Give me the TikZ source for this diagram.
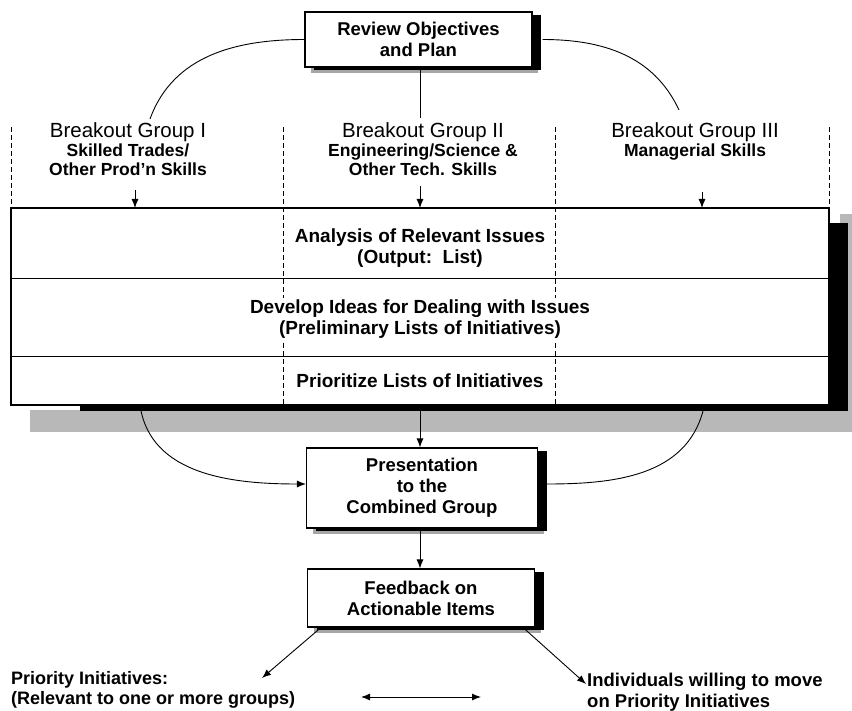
\documentclass[tikz,border=0pt]{standalone}
\usepackage{fontspec}
\setmainfont{Liberation Sans}
\usetikzlibrary{arrows.meta,shadows}
\begin{document}
\begin{tikzpicture}[x=1pt,y=-1pt,
  lbl/.style={font=\bfseries\fontsize{19}{20.5}\selectfont, align=center, inner sep=1pt},
  grp/.style={font=\bfseries\fontsize{17.5}{19}\selectfont, align=center, inner sep=1pt, anchor=north},
  boxnode/.style={draw, line width=1.1pt, fill=white, align=center,
     font=\bfseries\fontsize{18.5}{21}\selectfont,
     general shadow={fill=black!35, shadow xshift=6pt, shadow yshift=-6pt},
     general shadow={fill=black, shadow xshift=9pt, shadow yshift=-3pt}},
  conn/.style={line width=0.9pt},
  arr/.style={conn, -{Latex[length=9pt,width=7pt]}},
  dbl/.style={conn, {Latex[length=9pt,width=7pt]}-{Latex[length=9pt,width=7pt]}},
  dashln/.style={line width=1pt, dash pattern=on 5pt off 3pt},
]
\useasboundingbox (0,0) rectangle (852,711);

% top box
\node[boxnode, minimum width=227pt, minimum height=55pt] (review) at (418.5,39.5) {Review Objectives\\and Plan};

% breakout groups
\node[grp] (g1) at (128,121) {{\mdseries\fontsize{20.5}{22}\selectfont Breakout Group I}\\Skilled Trades/\\Other Prod'n Skills};
\node[grp] (g2) at (423,121) {{\mdseries\fontsize{20.5}{22}\selectfont Breakout Group II}\\Engineering/Science \&\\Other Tech. Skills};
\node[grp] (g3) at (695,121) {{\mdseries\fontsize{20.5}{22}\selectfont Breakout Group III}\\Managerial Skills};

\coordinate (e1) at (150,119);
\coordinate (e3) at (679,110);
\draw[conn] (review.west) to[out=180,in=70] (e1);
\draw[conn] ([xshift=10pt]review.east) to[out=0,in=115] (e3);
\draw[conn] (review.south -| 420,0) -- (420,118);

% band shadow
\fill[black!28] (30,410) rectangle (852,432);
\fill[black!28] (840,214) rectangle (852,432);
\fill[black] (80,405) rectangle (848,411);
\fill[black] (829,223) rectangle (848,411);
% band
\coordinate (bandNW) at (11,208);
\coordinate (bandSE) at (829,405);
\draw[line width=1.1pt, fill=white] (bandNW) rectangle (bandSE);
\draw[line width=1pt] (11,279) -- (829,279);
\draw[line width=1pt] (11,357) -- (829,357);

% dashed column lines
\draw[dashln] (11,127) -- (11,208);
\draw[dashln] (829,127) -- (829,208);
\draw[dashln] (283,127) -- (283,405);
\draw[dashln] (555,127) -- (555,405);

% arrows into band
\coordinate (s1) at (135,190);
\coordinate (s2) at (420,186);
\coordinate (s3) at (702,192);
\draw[arr] (s1) -- (s1 |- bandNW);
\draw[arr] (s2) -- (s2 |- bandNW);
\draw[arr] (s3) -- (s3 |- bandNW);

% band texts
\node[lbl] (r1) at (420,248) {Analysis of Relevant Issues\\(Output:\ \ List)};
\node[lbl, fill=white, inner sep=2pt] (r2) at (420,319) {Develop Ideas for Dealing with Issues\\(Preliminary Lists of Initiatives)};
\node[lbl] (r3) at (420,381) {Prioritize Lists of Initiatives};

% presentation & feedback
\node[boxnode, minimum width=231pt, minimum height=80pt] (pres) at (422,488) {Presentation\\to the\\Combined Group};
\node[boxnode, minimum width=227pt, minimum height=58pt] (fb) at (421,598) {Feedback on\\Actionable Items};

\coordinate (b1) at (140,405);
\coordinate (b2) at (420,405);
\coordinate (b3) at (703,411);
\draw[arr] (b1) to[out=-82,in=180] ([yshift=4pt]pres.west);
\draw[conn] ([xshift=9pt,yshift=4pt]pres.east) to[out=0,in=-105] (b3);
\draw[arr] (b2) -- (b2 |- pres.north);
\draw[arr] (pres.south -| b2) -- (b2 |- fb.north);

% bottom texts
\node[lbl, font=\bfseries\fontsize{18}{20.5}\selectfont, anchor=west, align=left] (pi) at (10,690) {Priority Initiatives:\\(Relevant to one or more groups)};
\node[lbl, font=\bfseries\fontsize{18.5}{20.5}\selectfont, anchor=west, align=left] (iw) at (586,692) {Individuals willing to move\\on Priority Initiatives};
\coordinate (t1) at (262,678);
\draw[arr] ([xshift=14pt]fb.south west) -- (t1);
\draw[arr] ([xshift=-12pt]fb.south east) -- ([yshift=8pt]iw.west);
\coordinate (d1) at (361,697);
\coordinate (d2) at (481,697);
\draw[dbl] (d1) -- (d2);
\end{tikzpicture}
\end{document}
